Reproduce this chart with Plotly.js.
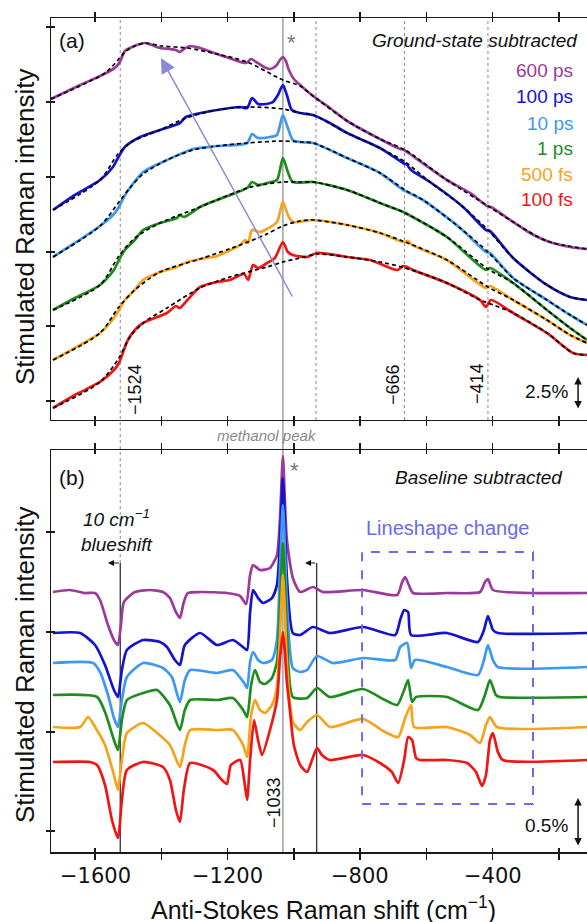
<!DOCTYPE html>
<html><head><meta charset="utf-8">
<script src="https://cdn.plot.ly/plotly-3.0.1.min.js"></script>
<style>html,body{margin:0;padding:0;background:#fff;overflow:hidden}</style>
</head><body>
<div id="chart" style="width:587px;height:922px"></div>
<script>
// ---------- labels & colours ----------
const labels = ['600 ps','100 ps','10 ps','1 ps','500 fs','100 fs'];
const colors = ['#9b3a9b','#1414cf','#3d98f2','#1f8c1f','#f7a21b','#ef1616'];
const xTickVals = [-1600,-1400,-1200,-1000,-800,-600,-400,-200];
const xLabelVals = [-1600,-1200,-800,-400];
const xLabelText = ['\u22121600','\u22121200','\u2212800','\u2212400'];
const refLinesA = [-933,-666,-414];     // dotted marker lines, panel (a)
const refLine1524 = -1524;
const methanolPeak = -1033;
const blueshiftLines = [-1524,-931];

// ---------- panel (a): ground-state subtracted spectra ----------
const a600x = [-1733,-1645,-1585,-1555,-1534,-1522,-1510,-1488,-1464,-1449,-1428,-1404,-1374,-1356,-1344,-1332,-1313,-1283,-1232,-1187,-1144,-1129,-1114,-1090,-1072,-1054,-1042,-1033,-1024,-1015,-1000,-981,-942,-891,-839,-740,-679,-667,-658,-538,-468,-417,-405,-338,-287,-236,-166,-115];
const a600y = [32.1,33.5,34.4,34.9,35.4,36.0,36.9,37.3,37.6,37.7,37.5,37.2,37.1,37.0,36.8,37.1,37.4,37.2,36.6,36.1,35.7,36.1,35.8,35.3,35.1,35.4,36.0,36.3,35.9,35.0,34.1,33.5,32.4,31.2,29.9,28.1,27.1,27.0,26.8,24.0,22.7,21.4,21.3,19.8,18.7,17.9,17.3,17.1];
const base600x = [-1733,-1570,-1531,-1510,-1480,-1449,-1400,-1322,-1232,-1141,-1033,-981,-942,-839,-740,-664,-538,-414,-338,-236,-115];
const base600y = [32.1,34.7,36.0,36.8,37.4,37.7,37.4,37.2,36.6,35.8,34.0,33.4,32.4,29.9,28.1,27.0,24.0,21.4,19.8,17.9,17.1];

const a100x = [-1727,-1661,-1585,-1546,-1531,-1510,-1464,-1404,-1344,-1326,-1307,-1232,-1162,-1141,-1126,-1108,-1084,-1063,-1048,-1033,-1021,-1006,-981,-942,-891,-839,-740,-670,-658,-646,-589,-489,-420,-408,-338,-236,-166,-115];
const a100y = [21.0,22.5,24.0,25.3,26.2,27.3,28.3,29.0,29.7,30.3,30.5,31.0,31.3,31.2,32.2,31.6,31.6,31.8,32.5,33.5,32.5,31.0,30.7,30.5,29.7,28.7,27.2,25.7,25.5,25.0,23.8,21.3,19.0,18.9,16.2,13.5,12.3,12.0];
const base100x = [-1727,-1585,-1531,-1490,-1404,-1326,-1232,-1141,-1033,-981,-942,-839,-740,-664,-589,-489,-414,-338,-236,-166,-115];
const base100y = [21.0,24.0,26.6,27.8,29.0,30.2,31.0,31.3,31.1,30.7,30.5,28.7,27.2,25.8,23.8,21.3,19.0,16.2,13.5,12.3,12.0];

const a10x = [-1727,-1661,-1585,-1543,-1528,-1513,-1495,-1455,-1383,-1304,-1232,-1141,-1126,-1108,-1072,-1051,-1033,-1018,-1003,-981,-942,-839,-740,-670,-658,-610,-498,-420,-408,-338,-236,-166,-115];
const a10y = [16.3,17.7,19.4,20.6,21.3,22.3,23.2,24.8,26.0,27.1,27.4,27.7,28.6,28.2,28.3,28.5,30.5,29.2,28.0,27.8,27.7,26.2,24.7,23.0,22.8,22.0,19.2,16.8,16.7,14.2,12.0,10.5,9.5];
const base10x = [-1727,-1585,-1528,-1495,-1455,-1383,-1304,-1232,-1141,-1033,-981,-942,-839,-740,-664,-610,-498,-414,-338,-236,-166,-115];
const base10y = [16.3,19.4,21.8,23.2,24.6,26.0,27.0,27.4,27.7,27.9,27.8,27.7,26.2,24.7,23.0,22.0,19.2,16.8,14.2,12.0,10.5,9.5];

const a1x = [-1727,-1661,-1585,-1543,-1528,-1510,-1480,-1455,-1404,-1353,-1344,-1332,-1283,-1232,-1141,-1126,-1108,-1081,-1051,-1033,-1018,-1003,-942,-839,-740,-670,-658,-538,-420,-408,-338,-236,-166,-115];
const a1y = [11.0,12.2,13.5,15.0,16.0,17.0,18.0,19.0,19.7,20.2,20.5,20.3,21.3,22.0,23.2,23.8,23.5,23.7,24.0,26.2,24.8,23.8,23.8,23.0,21.7,20.8,20.6,18.3,15.0,15.2,13.7,11.0,9.2,8.0];
const base1x = [-1727,-1585,-1528,-1480,-1404,-1283,-1232,-1141,-1081,-1033,-981,-942,-839,-740,-664,-538,-414,-338,-236,-166,-115];
const base1y = [11.0,13.5,16.4,18.2,19.7,21.3,22.0,23.2,23.6,23.8,23.8,23.8,23.0,21.7,20.7,18.3,15.1,13.7,11.0,9.2,8.0];

const a500x = [-1727,-1661,-1585,-1543,-1528,-1510,-1480,-1455,-1404,-1353,-1322,-1283,-1232,-1162,-1147,-1138,-1126,-1102,-1081,-1051,-1033,-1018,-1003,-942,-839,-740,-670,-655,-643,-538,-420,-408,-338,-236,-166,-115];
const a500y = [6.0,7.2,8.7,10.2,11.0,12.0,13.0,14.0,14.8,15.3,15.8,16.1,16.4,17.5,18.0,17.7,19.0,18.8,19.1,19.8,21.8,20.5,19.8,20.0,19.5,18.7,17.8,17.9,17.5,16.0,13.2,13.4,12.0,10.0,8.5,7.7];
const base500x = [-1727,-1585,-1528,-1480,-1404,-1283,-1162,-1081,-1033,-981,-942,-839,-740,-664,-538,-414,-338,-236,-166,-115];
const base500y = [6.0,8.7,11.3,13.0,14.8,16.1,17.5,18.6,19.4,19.9,20.0,19.5,18.7,17.8,16.0,13.3,12.0,10.0,8.5,7.7];

const a100fx = [-1727,-1661,-1585,-1543,-1528,-1513,-1501,-1480,-1455,-1383,-1356,-1344,-1329,-1283,-1232,-1193,-1150,-1138,-1123,-1108,-1081,-1057,-1033,-1018,-1003,-960,-930,-839,-770,-688,-670,-658,-640,-538,-438,-420,-405,-338,-236,-157,-115];
const a100fy = [1.2,2.5,3.8,5.0,5.7,7.0,8.0,9.0,9.7,10.7,11.4,11.2,11.7,13.3,13.8,14.0,14.6,14.0,15.5,15.2,15.7,16.2,17.8,16.8,16.5,16.3,16.7,16.3,16.0,15.0,15.4,15.3,15.0,13.7,12.0,11.3,12.0,10.7,8.7,6.7,6.5];
const base100fx = [-1727,-1585,-1528,-1495,-1455,-1383,-1283,-1193,-1081,-1033,-981,-930,-839,-740,-664,-538,-438,-414,-338,-236,-157,-115];
const base100fy = [1.2,3.8,6.2,8.3,9.7,11.2,13.2,14.3,15.3,15.8,16.2,16.6,16.3,15.8,15.2,13.7,12.0,11.7,10.7,8.7,6.7,6.5];

// ---------- panel (b): baseline subtracted spectra (%) ----------
const b600x = [-1727,-1676,-1630,-1600,-1585,-1561,-1543,-1531,-1522,-1513,-1480,-1434,-1395,-1374,-1356,-1344,-1332,-1320,-1283,-1202,-1162,-1144,-1132,-1123,-1102,-1072,-1051,-1042,-1033,-1027,-1021,-1003,-981,-942,-912,-791,-688,-673,-664,-649,-640,-538,-438,-423,-414,-399,-287,-115];
const b600y = [2.60,2.62,2.59,2.59,2.52,2.27,2.12,2.07,2.27,2.50,2.60,2.62,2.60,2.54,2.40,2.34,2.50,2.59,2.60,2.59,2.56,2.48,2.77,2.87,2.82,2.84,2.97,3.32,3.96,3.52,3.12,2.74,2.60,2.65,2.60,2.62,2.57,2.70,2.75,2.64,2.59,2.59,2.60,2.70,2.73,2.62,2.59,2.59];

const b100x = [-1727,-1645,-1600,-1570,-1543,-1531,-1519,-1504,-1455,-1404,-1383,-1359,-1344,-1329,-1283,-1232,-1184,-1150,-1141,-1132,-1123,-1108,-1093,-1066,-1051,-1042,-1033,-1027,-1021,-1003,-981,-942,-891,-791,-694,-679,-667,-655,-646,-538,-444,-426,-414,-399,-384,-115];
const b100y = [2.19,2.19,2.07,1.87,1.62,1.55,1.82,2.02,2.12,2.10,2.05,1.92,1.87,2.07,2.19,2.07,2.12,2.04,2.02,2.40,2.62,2.54,2.49,2.54,2.67,3.10,3.74,3.30,2.75,2.19,2.17,2.25,2.19,2.25,2.17,2.32,2.42,2.40,2.17,2.19,2.10,2.22,2.36,2.22,2.19,2.19];

const b10x = [-1727,-1606,-1585,-1561,-1543,-1531,-1519,-1504,-1455,-1395,-1368,-1344,-1329,-1313,-1232,-1184,-1150,-1141,-1132,-1123,-1108,-1093,-1066,-1051,-1042,-1033,-1027,-1021,-1003,-981,-960,-930,-882,-791,-694,-679,-658,-646,-634,-538,-444,-426,-414,-399,-384,-115];
const b10y = [1.89,1.89,1.80,1.57,1.34,1.25,1.52,1.75,1.89,1.84,1.75,1.50,1.72,1.82,1.79,1.82,1.69,1.64,1.90,2.00,1.92,1.89,1.92,2.12,2.80,3.47,3.05,2.50,1.84,1.80,1.82,1.96,1.89,1.94,1.92,2.05,2.09,1.84,1.92,1.85,1.77,1.92,2.07,1.92,1.85,1.85];

const b1x = [-1727,-1594,-1570,-1543,-1531,-1519,-1504,-1455,-1413,-1374,-1344,-1329,-1313,-1232,-1184,-1153,-1141,-1129,-1117,-1102,-1087,-1066,-1051,-1042,-1033,-1027,-1021,-1003,-960,-930,-891,-791,-725,-688,-667,-655,-643,-631,-538,-444,-423,-408,-390,-378,-115];
const b1y = [1.57,1.55,1.40,1.12,1.02,1.32,1.52,1.59,1.62,1.47,1.22,1.42,1.52,1.52,1.54,1.42,1.35,1.67,1.82,1.70,1.68,1.74,1.90,2.45,3.09,2.70,2.20,1.55,1.54,1.64,1.55,1.63,1.52,1.47,1.62,1.72,1.50,1.55,1.55,1.42,1.57,1.72,1.57,1.55,1.55];

const b500x = [-1727,-1645,-1621,-1600,-1570,-1543,-1531,-1519,-1504,-1455,-1413,-1374,-1344,-1329,-1313,-1232,-1184,-1153,-1141,-1129,-1117,-1102,-1087,-1066,-1051,-1042,-1033,-1027,-1021,-1003,-981,-960,-930,-891,-791,-725,-685,-664,-646,-637,-538,-468,-438,-420,-408,-387,-115];
const b500y = [1.25,1.25,1.35,1.25,1.07,0.77,0.62,0.92,1.19,1.29,1.19,1.07,0.85,1.07,1.22,1.22,1.22,1.07,0.95,1.37,1.52,1.42,1.39,1.47,1.65,2.15,2.77,2.40,1.90,1.30,1.22,1.30,1.37,1.25,1.33,1.20,1.15,1.34,1.47,1.25,1.25,1.17,1.09,1.27,1.35,1.25,1.25];

const b100fx = [-1727,-1615,-1594,-1570,-1549,-1531,-1519,-1504,-1455,-1395,-1374,-1356,-1344,-1332,-1313,-1244,-1217,-1202,-1190,-1162,-1150,-1141,-1132,-1120,-1108,-1096,-1072,-1051,-1042,-1033,-1027,-1021,-1012,-1000,-981,-960,-945,-930,-915,-891,-791,-740,-704,-685,-667,-655,-643,-631,-619,-538,-477,-450,-432,-420,-408,-399,-384,-369,-115];
const b100fy = [0.90,0.90,0.87,0.67,0.32,0.14,0.52,0.82,0.90,0.85,0.72,0.42,0.30,0.62,0.89,0.82,0.72,0.68,0.87,0.92,0.72,0.52,0.92,1.32,1.12,0.97,1.22,1.52,1.92,2.20,2.00,1.70,1.42,1.07,0.87,0.80,0.92,1.04,0.97,0.92,0.97,0.89,0.80,0.69,0.92,1.15,1.12,0.94,0.92,0.92,0.89,0.80,0.66,0.77,1.12,1.19,1.00,0.92,0.92];

// ---------- build traces ----------
const seriesA = [[a600x,a600y],[a100x,a100y],[a10x,a10y],[a1x,a1y],[a500x,a500y],[a100fx,a100fy]];
const basesA  = [[base600x,base600y],[base100x,base100y],[base10x,base10y],[base1x,base1y],[base500x,base500y],[base100fx,base100fy]];
const seriesB = [[b600x,b600y],[b100x,b100y],[b10x,b10y],[b1x,b1y],[b500x,b500y],[b100fx,b100fy]];

const traces = [];
seriesA.forEach((s,i)=>{
  traces.push({x:s[0],y:s[1],xaxis:'x',yaxis:'y',mode:'lines',name:labels[i],
    line:{color:colors[i],width:2.7,shape:'spline',smoothing:0.7},hoverinfo:'skip'});
});
basesA.forEach((s,i)=>{
  traces.push({x:s[0],y:s[1],xaxis:'x',yaxis:'y',mode:'lines',name:labels[i]+' baseline',
    line:{color:'#000',width:1.7,dash:'4px,3px',shape:'spline',smoothing:0.8},hoverinfo:'skip'});
});
seriesB.forEach((s,i)=>{
  traces.push({x:s[0],y:s[1],xaxis:'x2',yaxis:'y2',mode:'lines',name:labels[i],
    line:{color:colors[i],width:2.7,shape:'spline',smoothing:0.6},hoverinfo:'skip'});
});

// ---------- layout ----------
const F = 'Liberation Sans, Arial, Helvetica, sans-serif';
const axLine = '#1a1a1a';
const xRange = [-1733,-115];
const aRange = [0,40.2], bRange = [0,4.02];
const aTicks = [1.9,9.4,16.8,24.3,31.8,39.3];
const bTicks = [0.21,1.20,2.20,3.20];
const domA = [0.518,1], domB = [0,0.482];

// crossing tick marks: major ticks outside + minor ticks (same places) inside
function nudge(arr,d){return arr.map(v=>v+d);}
function xax(extra){return Object.assign({range:xRange,tickvals:xTickVals,showline:true,linecolor:axLine,linewidth:1.5,
  ticks:'outside',ticklen:5,tickcolor:axLine,tickwidth:1.5,mirror:'ticks',
  minor:{tickvals:nudge(xTickVals,0.3),ticks:'inside',ticklen:4,tickcolor:axLine,tickwidth:1.5,showgrid:false},
  showgrid:false,zeroline:false,fixedrange:true,showticklabels:false},extra);}
function yax(ticks,extra){return Object.assign({showline:true,linecolor:axLine,linewidth:1.5,tickcolor:axLine,tickwidth:1.5,
  tickvals:ticks,ticks:'outside',ticklen:4,
  minor:{tickvals:nudge(ticks,0.001),ticks:'inside',ticklen:4,tickcolor:axLine,tickwidth:1.5,showgrid:false},
  showgrid:false,zeroline:false,fixedrange:true,showticklabels:false},extra);}

const ann = [];
function txt(text,x,y,opts){ann.push(Object.assign({text:text,x:x,y:y,xref:'paper',yref:'paper',showarrow:false,
  xanchor:'center',yanchor:'middle',font:{family:F,size:19,color:'#111'}},opts||{}));}

// x tick labels (every other tick)
xLabelVals.forEach((v,i)=>ann.push({text:xLabelText[i],x:v,xref:'x2',y:-0.0288,yref:'paper',showarrow:false,
  xanchor:'center',yanchor:'middle',font:{family:'DejaVu Sans, sans-serif',size:21,color:'#111'}}));

txt('(a)',0.04,0.9736,{font:{family:F,size:21,color:'#111'}});
txt('(b)',0.04,0.4496,{font:{family:F,size:21,color:'#111'}});
txt('<i>Ground-state subtracted</i>',0.987,0.9736,{xanchor:'right'});
const legY = [0.9376,0.9053,0.8741,0.8441,0.8118,0.7818];
labels.forEach((l,i)=>txt(l,0.9776,legY[i],{xanchor:'right',font:{family:F,size:19,color:colors[i]}}));
txt('*',0.4496,0.9712,{font:{family:F,size:22,color:'#777'}});
txt('*',0.4534,0.458,{font:{family:F,size:22,color:'#777'}});
txt('<i>methanol peak</i>',0.403,0.5,{font:{family:F,size:15,color:'#888'}});
txt('\u22121524',0.1567,0.5552,{textangle:-90,font:{family:F,size:18,color:'#111'}});
txt('\u2212666',0.638,0.5612,{textangle:-90,font:{family:F,size:18,color:'#111'}});
txt('\u2212414',0.795,0.5612,{textangle:-90,font:{family:F,size:18,color:'#111'}});
txt('\u22121033',0.416,0.06,{textangle:-90,font:{family:F,size:18,color:'#111'}});
txt('2.5%',0.925,0.5516);
txt('0.5%',0.925,0.0312);
txt('<i>10 cm<sup>\u22121</sup><br>blueshift</i>',0.123,0.385);
txt('Lineshape change',0.739,0.3885,{font:{family:F,size:20,color:'#6b6bea'}});
txt('<i>Baseline subtracted</i>',0.959,0.4496,{xanchor:'right'});
txt('Stimulated Raman intensity',-0.0485,0.7494,{textangle:-90,font:{family:F,size:26,color:'#111'}});
txt('Stimulated Raman intensity',-0.0485,0.2242,{textangle:-90,font:{family:F,size:26,color:'#111'}});
txt('Anti-Stokes Raman shift (cm<sup>\u22121</sup>)',0.5075,-0.0671,{font:{family:F,size:25,color:'#111'}});

// arrows
ann.push({xref:'x',yref:'y',axref:'x',ayref:'y',x:-1401,y:36.2,ax:-1002,ay:12.2,text:'',showarrow:true,
  arrowhead:2,arrowsize:2,arrowwidth:1.5,arrowcolor:'#8a8ad8'});
ann.push({xref:'x',yref:'y',axref:'x',ayref:'y',x:-142,y:4.3,ax:-142,ay:1.0,text:'',showarrow:true,
  arrowhead:2,arrowside:'end+start',arrowsize:1,arrowwidth:1.5,arrowcolor:'#111'});
ann.push({xref:'x2',yref:'y2',axref:'x2',ayref:'y2',x:-142,y:0.54,ax:-142,ay:0.05,text:'',showarrow:true,
  arrowhead:2,arrowside:'end+start',arrowsize:1,arrowwidth:1.5,arrowcolor:'#111'});
ann.push({xref:'x2',yref:'y2',axref:'x2',ayref:'y2',x:-1561,y:2.89,ax:blueshiftLines[0],ay:2.89,text:'',showarrow:true,
  arrowhead:2,arrowsize:1,arrowwidth:1.2,arrowcolor:'#111'});
ann.push({xref:'x2',yref:'y2',axref:'x2',ayref:'y2',x:-966,y:2.89,ax:blueshiftLines[1],ay:2.89,text:'',showarrow:true,
  arrowhead:2,arrowsize:1,arrowwidth:1.2,arrowcolor:'#111'});

const shapes = [];
shapes.push({type:'line',xref:'x',yref:'paper',x0:methanolPeak,x1:methanolPeak,y0:0,y1:1,layer:'below',line:{color:'#a0a0a0',width:1.5}});
shapes.push({type:'line',xref:'x',yref:'paper',x0:refLine1524,x1:refLine1524,y0:0.3465,y1:1,layer:'below',line:{color:'#888',width:1,dash:'dot'}});
refLinesA.forEach(v=>shapes.push({type:'line',xref:'x',yref:'paper',x0:v,x1:v,y0:0.518,y1:1,layer:'below',line:{color:'#888',width:1,dash:'dot'}}));
blueshiftLines.forEach(v=>shapes.push({type:'line',xref:'x2',yref:'y2',x0:v,x1:v,y0:0,y1:2.89,layer:'below',line:{color:'#222',width:1.2}}));
shapes.push({type:'rect',xref:'x2',yref:'y2',x0:-794,x1:-278,y0:0.48,y1:3.0,line:{color:'#6b6bea',width:2,dash:'dash'}});

const layout = {
  width:587,height:922,margin:{l:51,r:0,t:18,b:70},
  paper_bgcolor:'#fff',plot_bgcolor:'rgba(0,0,0,0)',showlegend:false,
  font:{family:F,color:'#111'},
  xaxis: xax({domain:[0,1],anchor:'y'}),
  xaxis2: xax({domain:[0,1],anchor:'y2',ticklen:6}),
  yaxis: yax(aTicks,{domain:domA,anchor:'x',range:aRange}),
  yaxis2: yax(bTicks,{domain:domB,anchor:'x2',range:bRange}),
  annotations:ann, shapes:shapes
};
Plotly.newPlot('chart',traces,layout,{staticPlot:true,displayModeBar:false});
</script>
</body></html>
